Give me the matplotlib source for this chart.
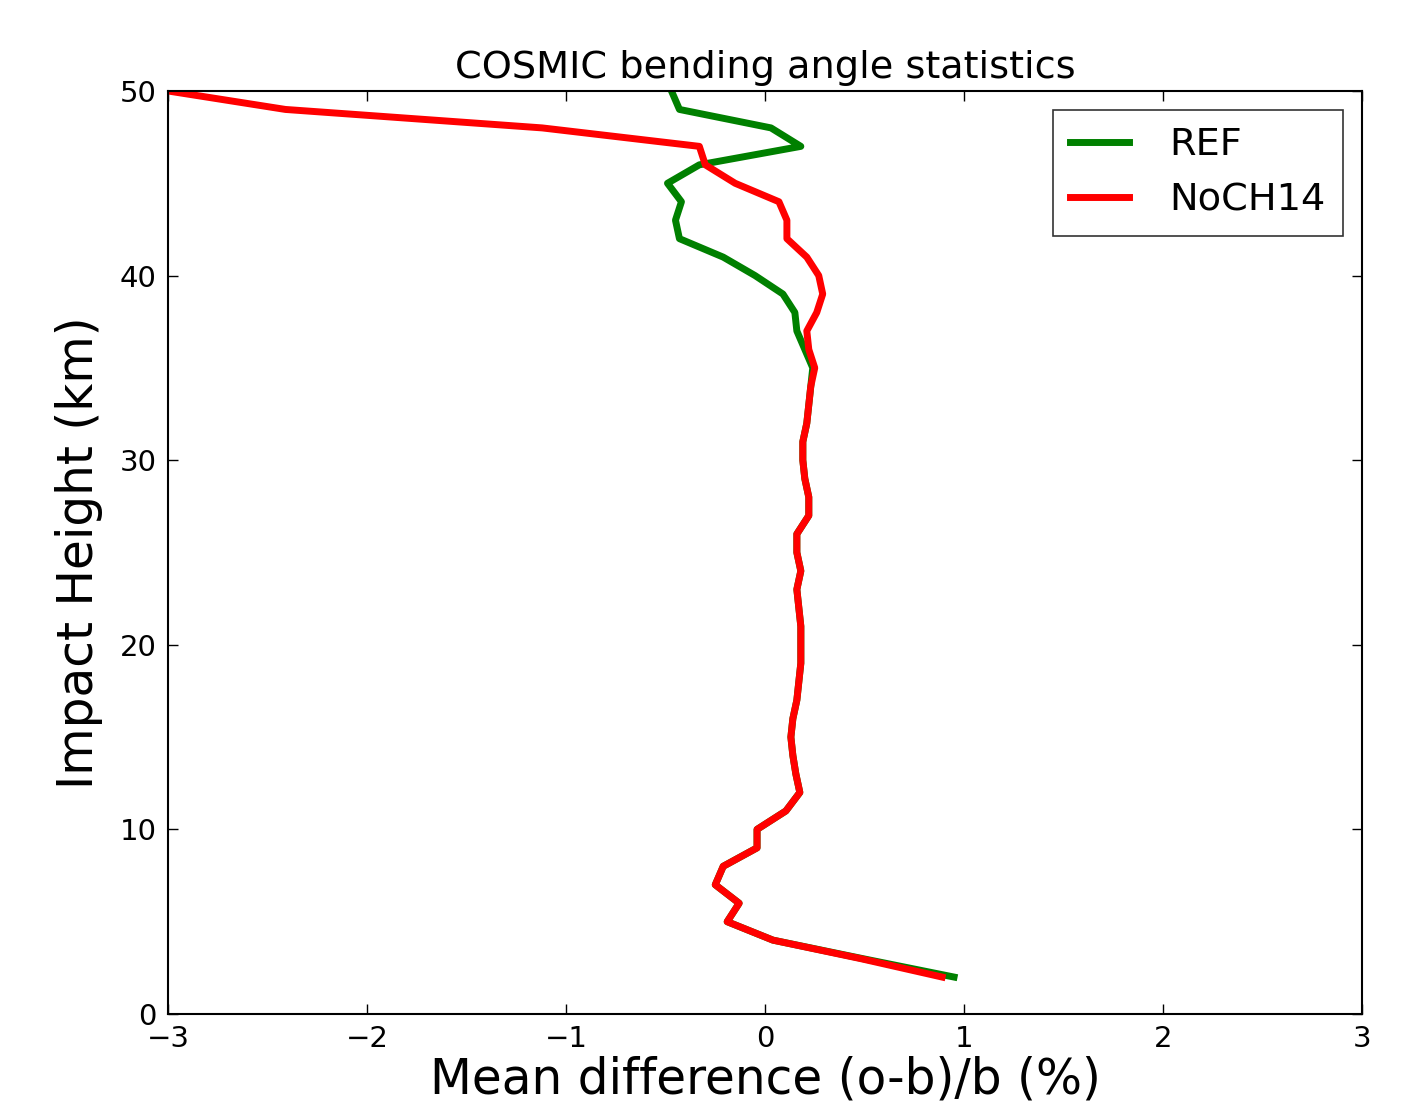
import matplotlib
matplotlib.use('Agg')
import matplotlib.pyplot as plt

# impact heights (km)
heights = list(range(2, 51))

# mean (o-b)/b in %, from 2 km up to 50 km
ref = [0.95, 0.49, 0.04, -0.19, -0.13, -0.25, -0.21, -0.04, -0.04, 0.105,
       0.175, 0.155, 0.14, 0.13, 0.14, 0.16, 0.17, 0.18, 0.18, 0.18,
       0.17, 0.16, 0.18, 0.16, 0.16, 0.22, 0.22, 0.20, 0.19, 0.19,
       0.21, 0.22, 0.23, 0.24, 0.20, 0.16, 0.15, 0.09, -0.05, -0.21,
       -0.43, -0.45, -0.42, -0.49, -0.33, 0.18, 0.03, -0.43, -0.47]

noch14 = [0.89, 0.48, 0.04, -0.19, -0.13, -0.25, -0.21, -0.04, -0.04, 0.105,
          0.175, 0.155, 0.14, 0.13, 0.14, 0.16, 0.17, 0.18, 0.18, 0.18,
          0.17, 0.16, 0.18, 0.16, 0.16, 0.22, 0.22, 0.20, 0.19, 0.19,
          0.21, 0.22, 0.23, 0.25, 0.22, 0.21, 0.26, 0.29, 0.27, 0.21,
          0.11, 0.11, 0.07, -0.15, -0.30, -0.33, -1.12, -2.41, -3.0]

xticks = [-3, -2, -1, 0, 1, 2, 3]
yticks = [0, 10, 20, 30, 40, 50]

fig = plt.figure(figsize=(14.18, 11.15), dpi=100)
ax = fig.add_axes([0.1185, 0.0906, 0.842, 0.8278])

ax.plot(ref, heights, color='green', linewidth=5, label='REF')
ax.plot(noch14, heights, color='red', linewidth=5, label='NoCH14')

ax.set_xlim(-3, 3)
ax.set_ylim(0, 50)
ax.set_xticks(xticks)
ax.set_yticks(yticks)

# old style ticks: inside, on all four sides
ax.tick_params(direction='in', length=7, width=1, top=True, right=True,
               labelsize=21, pad=8)
for s in ax.spines.values():
    s.set_linewidth(1.5)

ax.set_title('COSMIC bending angle statistics', fontsize=27.5, pad=9)
ax.set_xlabel('Mean difference (o-b)/b (%)', fontsize=35, labelpad=2)
ax.set_ylabel('Impact Height (km)', fontsize=35, labelpad=12)

leg = ax.legend(loc='upper right', fontsize=27.5, fancybox=False,
                handlelength=1.55, handletextpad=1.05, borderpad=0.45,
                labelspacing=0.5, borderaxespad=0.5)
leg.get_frame().set_edgecolor('black')
leg.get_frame().set_linewidth(1.2)

plt.savefig('out.png', dpi=100)
